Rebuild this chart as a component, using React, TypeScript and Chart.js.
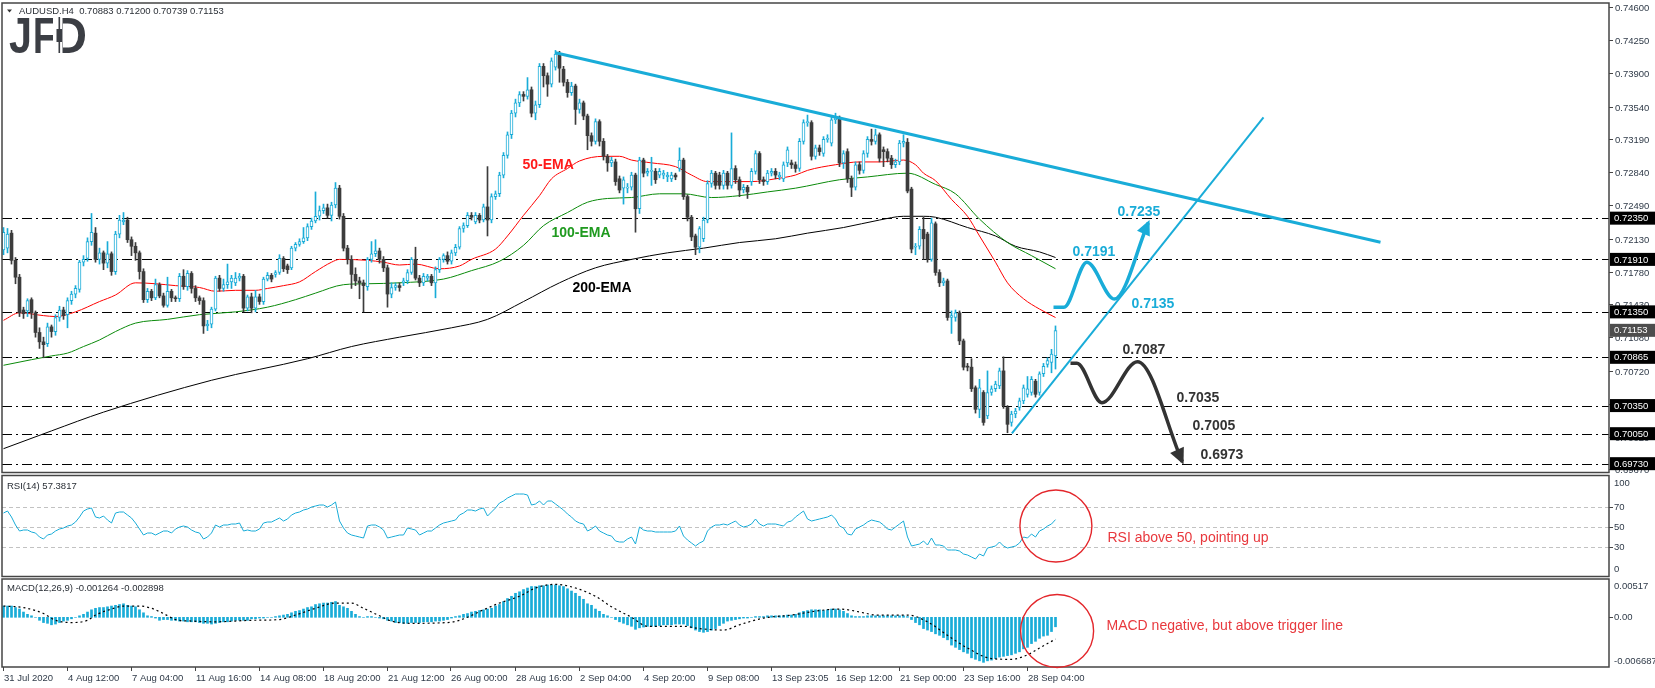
import React, { useEffect, useRef } from 'react';
import { Chart, registerables } from 'chart.js';

Chart.register(...registerables);

const W = 1655;
const H = 688;
const FONT = '"Liberation Sans", Arial, sans-serif';
const CYAN = '#19acd8';
const BEAR = '#3c3c3c';
const AXIS_TXT = '#2f3a48';

// ---------- candles (price x 10000) ----------
const OPEN = [
  7201,7203,7219,7190,7172,7137,7136,7148,7134,7113,
  7103,7101,7119,7114,7129,7137,7132,7147,7154,7159,
  7188,7192,7210,7219,7191,7198,7187,7197,7178,7218,
  7231,7233,7212,7205,7198,7178,7148,7157,7150,7164,
  7152,7142,7157,7150,7149,7173,7162,7176,7160,7150,
  7147,7120,7122,7138,7171,7160,7164,7167,7166,7171,
  7173,7139,7151,7139,7151,7146,7170,7174,7175,7177,
  7192,7184,7182,7203,7207,7210,7214,7226,7232,7237,
  7243,7246,7238,7249,7267,7237,7203,7191,7175,7168,
  7166,7162,7191,7197,7200,7191,7182,7154,7161,7163,
  7166,7168,7177,7191,7171,7166,7171,7173,7166,7180,
  7191,7195,7189,7198,7204,7224,7227,7238,7231,7238,
  7233,7247,7233,7258,7261,7281,7302,7324,7347,7358,
  7367,7365,7372,7347,7356,7397,7387,7378,7396,7410,
  7394,7380,7369,7376,7351,7358,7344,7323,7317,7338,
  7317,7301,7294,7295,7277,7267,7267,7268,7281,7245,
  7297,7283,7285,7285,7281,7281,7279,7277,7281,7288,
  7297,7258,7236,7216,7204,7213,7233,7272,7283,7281,
  7270,7283,7270,7288,7276,7265,7268,7274,7285,7304,
  7276,7274,7283,7285,7279,7277,7294,7294,7292,7288,
  7317,7337,7337,7301,7310,7304,7319,7315,7340,7342,
  7294,7306,7277,7268,7292,7286,7304,7319,7317,7324,
  7308,7306,7299,7292,7295,7315,7316,7266,7204,7205,
  7223,7218,7191,7229,7177,7166,7168,7129,7129,7134,
  7104,7077,7076,7054,7031,7049,7024,7049,7053,7056,
  7072,7033,7017,7026,7033,7040,7047,7049,7061,7049,
  7069,7079,7081,7088,
];
const HIGH = [
  7225,7224,7222,7193,7175,7140,7149,7150,7136,7118,
  7108,7123,7121,7132,7141,7140,7150,7157,7163,7190,
  7195,7214,7240,7225,7203,7200,7210,7199,7221,7238,
  7241,7236,7215,7209,7200,7181,7160,7159,7170,7166,
  7155,7172,7159,7152,7176,7180,7179,7178,7163,7152,
  7150,7126,7140,7173,7174,7170,7186,7174,7177,7176,
  7175,7153,7155,7158,7154,7172,7177,7176,7179,7196,
  7194,7186,7205,7209,7213,7225,7229,7235,7263,7248,
  7250,7250,7252,7273,7270,7240,7206,7195,7182,7172,
  7169,7193,7210,7212,7203,7194,7185,7166,7166,7166,
  7171,7180,7193,7204,7174,7176,7175,7175,7183,7193,
  7197,7199,7201,7207,7226,7230,7241,7241,7241,7240,
  7250,7290,7261,7264,7284,7305,7327,7350,7362,7370,
  7370,7385,7375,7360,7400,7400,7390,7406,7414,7413,
  7397,7383,7380,7378,7362,7360,7346,7326,7341,7340,
  7320,7303,7300,7298,7280,7279,7272,7284,7283,7300,
  7299,7288,7300,7288,7288,7286,7284,7284,7283,7310,
  7299,7260,7238,7218,7226,7236,7275,7286,7285,7284,
  7286,7285,7326,7291,7279,7271,7270,7288,7307,7306,
  7279,7286,7288,7288,7284,7295,7311,7297,7295,7320,
  7340,7345,7339,7313,7313,7322,7324,7343,7347,7344,
  7307,7309,7280,7295,7295,7307,7322,7330,7330,7326,
  7311,7309,7302,7298,7318,7324,7320,7268,7208,7226,
  7236,7220,7235,7231,7180,7171,7170,7136,7137,7136,
  7106,7080,7085,7056,7063,7051,7072,7056,7061,7075,
  7087,7035,7029,7032,7043,7057,7066,7066,7063,7071,
  7080,7086,7095,7120,
];
const LOW = [
  7196,7198,7186,7165,7130,7128,7130,7128,7108,7096,
  7086,7098,7108,7110,7125,7127,7118,7143,7150,7156,
  7184,7189,7206,7188,7186,7180,7182,7174,7175,7214,
  7228,7209,7195,7190,7170,7145,7145,7147,7148,7150,
  7140,7140,7146,7146,7146,7159,7158,7155,7146,7143,
  7112,7115,7118,7136,7157,7157,7160,7160,7163,7168,
  7135,7136,7134,7135,7143,7143,7168,7167,7172,7175,
  7178,7176,7180,7200,7205,7208,7211,7223,7230,7233,
  7240,7235,7232,7246,7234,7200,7186,7160,7163,7149,
  7135,7158,7188,7194,7187,7178,7140,7150,7158,7157,
  7163,7165,7175,7169,7162,7163,7168,7163,7150,7177,
  7188,7186,7186,7195,7202,7220,7225,7233,7229,7230,
  7231,7216,7230,7255,7258,7278,7299,7320,7343,7354,
  7360,7362,7343,7340,7353,7375,7365,7375,7393,7380,
  7376,7364,7366,7335,7347,7340,7308,7312,7314,7312,
  7297,7285,7290,7270,7262,7250,7262,7265,7220,7240,
  7279,7280,7270,7272,7278,7277,7274,7274,7276,7285,
  7255,7232,7211,7196,7198,7210,7230,7268,7266,7266,
  7266,7266,7267,7272,7258,7262,7256,7270,7282,7272,
  7270,7271,7280,7277,7276,7274,7290,7288,7284,7285,
  7314,7333,7297,7298,7302,7301,7316,7312,7336,7290,
  7288,7273,7258,7265,7282,7283,7300,7313,7314,7295,
  7290,7295,7288,7289,7292,7311,7262,7198,7196,7202,
  7191,7188,7189,7174,7162,7163,7126,7112,7125,7100,
  7073,7072,7050,7027,7022,7014,7021,7046,7050,7053,
  7032,7006,7013,7022,7030,7037,7044,7046,7044,7046,
  7066,7076,7070,7074,
];
const CLOSE = [
  7220,7218,7190,7172,7134,7133,7147,7134,7113,7103,
  7100,7119,7114,7129,7137,7131,7147,7154,7160,7188,
  7191,7210,7220,7191,7198,7187,7197,7178,7218,7233,
  7233,7212,7205,7198,7178,7148,7157,7150,7164,7152,
  7142,7157,7150,7149,7173,7162,7176,7160,7150,7147,
  7120,7122,7138,7171,7160,7164,7167,7171,7171,7173,
  7139,7151,7139,7151,7146,7170,7174,7170,7177,7192,
  7181,7180,7203,7207,7210,7214,7226,7232,7237,7243,
  7246,7238,7249,7267,7237,7203,7191,7175,7168,7166,
  7163,7191,7197,7200,7191,7182,7154,7161,7163,7161,
  7168,7177,7191,7171,7166,7173,7173,7166,7180,7191,
  7195,7189,7198,7204,7224,7227,7238,7236,7238,7233,
  7247,7233,7258,7261,7281,7302,7324,7347,7358,7367,
  7365,7372,7347,7356,7397,7387,7378,7403,7410,7395,
  7380,7369,7376,7351,7358,7344,7323,7317,7338,7317,
  7301,7294,7297,7274,7265,7276,7268,7281,7245,7297,
  7283,7285,7286,7276,7285,7283,7281,7281,7279,7297,
  7258,7236,7215,7204,7224,7233,7272,7283,7270,7270,
  7283,7270,7288,7276,7265,7268,7263,7285,7304,7276,
  7274,7283,7285,7281,7281,7292,7308,7292,7288,7317,
  7337,7338,7301,7310,7306,7319,7320,7340,7342,7294,
  7304,7277,7268,7292,7286,7304,7319,7317,7324,7299,
  7306,7299,7292,7295,7315,7317,7264,7202,7205,7223,
  7213,7191,7230,7177,7166,7168,7129,7131,7134,7104,
  7076,7076,7053,7031,7054,7017,7049,7053,7058,7072,
  7035,7015,7026,7029,7040,7054,7053,7063,7047,7069,
  7077,7083,7090,7115,
];

// ---------- moving averages [bar, price x 10000] ----------
const EMA50 = [
  [0,7126],[4,7134],[10,7131],[13,7130],[18,7135],[24,7146],[28,7153],[33,7166],[38,7165],[43,7163],
  [49,7161],[53,7157],[58,7158],[63,7158],[66,7160],[70,7163],[74,7167],[78,7178],[82,7188],[84,7191],
  [91,7190],[95,7188],[99,7185],[103,7186],[109,7181],[114,7184],[117,7191],[123,7202],[126,7216],[130,7238],
  [134,7259],[137,7277],[141,7288],[144,7296],[150,7301],[154,7301],[157,7297],[162,7294],[168,7290],[172,7281],
  [176,7274],[180,7274],[187,7274],[193,7277],[198,7281],[201,7286],[208,7292],[214,7295],[219,7295],[225,7297],
  [228,7292],[230,7283],[233,7275],[237,7255],[241,7237],[244,7216],[248,7188],[251,7166],[255,7149],[259,7138],[263,7129],
];
const EMA100 = [
  [0,7078],[7,7084],[12,7088],[16,7091],[20,7098],[24,7105],[28,7114],[33,7123],[41,7127],[49,7132],
  [58,7135],[66,7140],[73,7148],[78,7155],[85,7164],[91,7165],[99,7166],[110,7170],[117,7179],[124,7189],
  [130,7206],[135,7227],[141,7241],[146,7252],[151,7256],[157,7257],[164,7261],[170,7261],[177,7257],[184,7259],
  [191,7263],[198,7267],[209,7276],[216,7279],[226,7283],[233,7271],[238,7261],[244,7234],[251,7209],[257,7195],[263,7181],
];
const EMA200 = [
  [0,6989],[12,7008],[25,7028],[52,7062],[76,7085],[87,7098],[99,7108],[112,7118],[121,7127],[130,7146],
  [139,7166],[148,7182],[157,7191],[166,7198],[175,7203],[184,7209],[193,7213],[201,7219],[210,7225],[219,7233],
  [225,7237],[230,7237],[233,7236],[241,7225],[248,7216],[253,7205],[259,7199],[263,7193],
];

// ---------- RSI(14) ----------
const RSI = [
  64,66,60,52,46,47,47,45,44,40,
  38,42,43,46,48,49,51,52,55,60,
  66,68,69,60,59,61,57,54,64,65,
  65,62,59,54,48,42,44,44,42,44,
  46,46,44,48,50,51,50,47,45,44,
  38,40,44,52,50,52,52,53,53,54,
  46,47,46,46,48,54,55,55,57,59,
  56,58,62,64,65,67,68,70,71,72,
  72,70,72,75,56,49,44,42,41,40,
  39,51,52,52,50,47,39,40,41,42,
  42,49,48,47,42,44,46,46,49,52,
  54,55,56,57,62,64,67,67,66,68,
  69,61,65,69,74,76,79,81,83,83,
  83,82,72,73,76,72,76,76,73,70,
  67,63,60,56,54,53,46,48,51,46,
  44,42,41,36,35,35,38,40,33,50,
  47,46,46,45,45,45,45,45,46,51,
  41,37,34,31,34,36,46,50,52,52,
  53,52,54,56,52,50,51,53,58,53,
  51,53,53,53,52,51,55,56,60,63,
  66,58,56,57,58,59,60,62,58,51,
  49,43,42,48,50,52,55,57,56,55,
  52,48,47,50,53,56,40,31,32,33,
  36,32,39,32,32,31,27,27,27,26,
  23,22,20,18,23,21,29,30,31,35,
  31,29,30,31,34,40,39,43,40,46,
  48,51,53,57.38,
];

// ---------- MACD(12,26,9) main (x 10000) ----------
const MACD = [
  15,15,15,13,11,7,4,2,0,-4,
  -7,-8,-10,-9,-7,-5,-4,-2,0,2,
  4,7,10,12,13,13,14,15,16,17,
  18,16,15,14,10,6,2,1,-1,-4,
  -3,-3,-4,-4,-5,-5,-6,-6,-6,-7,
  -8,-8,-9,-8,-7,-6,-6,-5,-4,-4,
  -4,-4,-2,-2,-1,-1,0,0,1,2,
  3,4,6,8,9,11,13,14,17,18,
  19,19,20,21,16,14,12,8,4,1,
  0,1,1,0,-1,-2,-4,-5,-7,-7,
  -8,-8,-7,-7,-7,-6,-6,-6,-5,-5,
  -4,-3,-1,1,2,4,5,7,8,9,
  10,11,12,15,17,21,25,28,32,34,
  37,39,41,41,42,42,43,43,43,42,
  41,38,35,32,28,24,18,16,11,8,
  4,2,0,-3,-6,-8,-10,-12,-16,-14,
  -13,-12,-12,-12,-11,-10,-10,-10,-9,-9,
  -9,-11,-14,-17,-19,-20,-19,-17,-15,-11,
  -8,-5,-4,-3,-2,-1,-1,0,1,1,
  1,2,2,2,2,2,3,3,4,6,
  8,9,10,10,10,9,10,11,11,10,
  8,5,2,1,1,1,2,2,2,2,
  2,2,2,2,2,2,1,-3,-7,-10,
  -15,-17,-19,-22,-24,-27,-30,-37,-40,-43,
  -46,-48,-54,-56,-58,-60,-58,-57,-55,-53,
  -52,-51,-50,-48,-46,-42,-40,-35,-32,-28,
  -25,-24,-19,-12.64,
];
// signal line [bar, value x 10000]
const SIGNAL = [
  [0,15],[5,13],[10,5],[13,-4],[17,-7],[21,-4],[23,3],[27,11],[30,15],[34,15],
  [37,12],[40,5],[43,-3],[47,-5],[53,-6],[62,-4],[69,-3],[73,3],[78,12],[83,19],
  [87,19],[90,12],[94,2],[97,-5],[102,-8],[111,-7],[114,-4],[120,10],[124,19],[129,28],
  [133,39],[138,44],[143,39],[148,28],[152,14],[157,0],[161,-12],[170,-12],[174,-15],[180,-17],
  [184,-10],[190,-1],[197,3],[204,9],[209,11],[215,6],[218,3],[226,3],[231,-6],[236,-24],
  [241,-41],[247,-55],[252,-56],[256,-50],[259,-41],[263,-28.98],
];

// ---------- drawn analysis ----------
const LEVELS = [0.7235, 0.7191, 0.7135, 0.70865, 0.7035, 0.7005, 0.6973];
const CURRENT_PRICE = 0.71153;
const TREND_DOWN_X = [138, 344.25];
const TREND_DOWN_Y = [0.74116, 0.72093];
const TREND_UP_X = [252.1, 315];
const TREND_UP_Y = [0.70054, 0.73426];
const BULL_PATH_X = [262.5, 265.1, 270.85, 277.7, 286.2];
const BULL_PATH_Y = [0.71399, 0.71399, 0.71879, 0.71487, 0.72301];
const BEAR_PATH_X = [266.75, 268.35, 274.6, 283.5, 294.7];
const BEAR_PATH_Y = [0.70801, 0.70801, 0.70381, 0.70818, 0.69751];

// ---------- axes ----------
const PRICE_TICKS = [0.746, 0.7425, 0.739, 0.7354, 0.7319, 0.7284, 0.7249, 0.7213, 0.7178, 0.7143, 0.7108, 0.7072, 0.7037, 0.7002, 0.6967];
const RSI_LEVELS = [70, 50, 30];
const RSI_TICKS = [100, 70, 50, 30, 0];
const MACD_TICKS = [0.00517, 0, -0.006687];
const MACD_TICK_TEXT = ['0.00517', '0.00', '-0.006687'];
const X_TICK_BARS = [0, 16, 32, 48, 64, 80, 96, 112, 128, 144, 160, 176, 192, 208, 224, 240, 256];
const X_TICK_LABELS = ['31 Jul 2020', '4 Aug 12:00', '7 Aug 04:00', '11 Aug 16:00', '14 Aug 08:00', '18 Aug 20:00', '21 Aug 12:00', '26 Aug 00:00', '28 Aug 16:00', '2 Sep 04:00', '4 Sep 20:00', '9 Sep 08:00', '13 Sep 23:05', '16 Sep 12:00', '21 Sep 00:00', '23 Sep 16:00', '28 Sep 04:00'];

// annotation anchors in data units
const PRICE_NOTES = [
  { text: '0.7235', bar: 278.5, value: 0.72416, color: CYAN },
  { text: '0.7191', bar: 267.25, value: 0.71989, color: CYAN },
  { text: '0.7135', bar: 282, value: 0.71434, color: CYAN },
  { text: '0.7087', bar: 279.75, value: 0.70943, color: '#333333' },
  { text: '0.7035', bar: 293.25, value: 0.70431, color: '#333333' },
  { text: '0.7005', bar: 297.25, value: 0.70132, color: '#333333' },
  { text: '0.6973', bar: 299.25, value: 0.69822, color: '#333333' },
  { text: '50-EMA', bar: 129.75, value: 0.72917, color: '#ff1a1a' },
  { text: '100-EMA', bar: 137, value: 0.72192, color: '#1f9a1f' },
  { text: '200-EMA', bar: 142.25, value: 0.71605, color: '#000000' },
];
const RSI_NOTE = { text: 'RSI above 50, pointing up', bar: 276, value: 39 };
const MACD_NOTE = { text: 'MACD negative, but above trigger line', bar: 275.75, value: -0.00116 };
const RSI_CIRCLE = { bar: 263.1, value: 51 };
const MACD_CIRCLE = { bar: 263.4, value: -0.00183 };

const P = (v: number) => v / 10000;

function arrowHead(ctx: any, x1: number, y1: number, x2: number, y2: number, len: number, half: number, color: string) {
  const dx = x2 - x1, dy = y2 - y1;
  const d = Math.hypot(dx, dy) || 1;
  const ux = dx / d, uy = dy / d;
  const tx = x2 + ux * 3, ty = y2 + uy * 3;
  const bx = tx - ux * len, by = ty - uy * len;
  ctx.fillStyle = color;
  ctx.beginPath();
  ctx.moveTo(tx, ty);
  ctx.lineTo(bx - uy * half, by + ux * half);
  ctx.lineTo(bx + uy * half, by - ux * half);
  ctx.closePath();
  ctx.fill();
}

const overlay = {
  id: 'overlay',
  beforeDatasetsDraw(chart: any) {
    const { ctx, chartArea: a, scales } = chart;
    ctx.save();
    ctx.lineWidth = 1;
    ctx.strokeStyle = '#000';
    ctx.setLineDash([10, 4, 2, 4]);
    for (const lv of LEVELS) {
      const y = Math.round(scales.y.getPixelForValue(lv)) + 0.5;
      ctx.beginPath();
      ctx.moveTo(a.left, y);
      ctx.lineTo(a.right, y);
      ctx.stroke();
    }
    ctx.strokeStyle = '#c2c2c2';
    ctx.setLineDash([4, 3]);
    for (const lv of RSI_LEVELS) {
      const y = Math.round(scales.yR.getPixelForValue(lv)) + 0.5;
      ctx.beginPath();
      ctx.moveTo(a.left, y);
      ctx.lineTo(a.right, y);
      ctx.stroke();
    }
    ctx.restore();
  },
  afterDatasetsDraw(chart: any) {
    const { ctx, scales } = chart;
    const xs = scales.x, ys = scales.y;
    ctx.save();
    // arrow heads on the projected paths
    let n = BULL_PATH_X.length;
    arrowHead(ctx, xs.getPixelForValue(BULL_PATH_X[n - 2]), ys.getPixelForValue(BULL_PATH_Y[n - 2]),
      xs.getPixelForValue(BULL_PATH_X[n - 1]), ys.getPixelForValue(BULL_PATH_Y[n - 1]), 15, 7, CYAN);
    n = BEAR_PATH_X.length;
    arrowHead(ctx, xs.getPixelForValue(BEAR_PATH_X[n - 2]), ys.getPixelForValue(BEAR_PATH_Y[n - 2]),
      xs.getPixelForValue(BEAR_PATH_X[n - 1]), ys.getPixelForValue(BEAR_PATH_Y[n - 1]), 16, 7.5, '#333333');
    ctx.restore();
  },
  afterDraw(chart: any) {
    const { ctx, chartArea: a, scales } = chart;
    const xs = scales.x, ys = scales.y, yr = scales.yR, ym = scales.yM;
    ctx.save();
    ctx.setLineDash([]);

    // panel frames
    ctx.strokeStyle = '#454545';
    ctx.lineWidth = 1.5;
    const L = a.left, R = a.right;
    ctx.strokeRect(L, 3, R - L, 469.5);
    ctx.strokeRect(L, 475.5, R - L, 101);
    ctx.strokeRect(L, 579, R - L, 88);

    // price axis
    ctx.lineWidth = 1;
    ctx.strokeStyle = '#454545';
    ctx.font = '9.5px ' + FONT;
    ctx.textBaseline = 'middle';
    ctx.textAlign = 'left';
    for (const t of PRICE_TICKS) {
      const y = Math.round(ys.getPixelForValue(t)) + 0.5;
      ctx.beginPath(); ctx.moveTo(R, y); ctx.lineTo(R + 4, y); ctx.stroke();
      ctx.fillStyle = AXIS_TXT;
      ctx.fillText(t.toFixed(5), R + 6, Math.max(y + 1, 8));
    }
    for (const lv of LEVELS) {
      const y = ys.getPixelForValue(lv);
      ctx.fillStyle = '#000';
      ctx.fillRect(R + 1, y - 6.5, W - R - 1, 13);
      ctx.fillStyle = '#fff';
      ctx.fillText(lv.toFixed(5), R + 5, y + 0.5);
    }
    {
      const y = ys.getPixelForValue(CURRENT_PRICE);
      ctx.fillStyle = '#4d4d4d';
      ctx.fillRect(R + 1, y - 6.5, W - R - 1, 13);
      ctx.fillStyle = '#fff';
      ctx.fillText(CURRENT_PRICE.toFixed(5), R + 5, y + 0.5);
    }

    // RSI axis
    ctx.fillStyle = AXIS_TXT;
    for (const t of RSI_TICKS) {
      const y = yr.getPixelForValue(t);
      if (t !== 100 && t !== 0) {
        ctx.beginPath(); ctx.moveTo(R, Math.round(y) + 0.5); ctx.lineTo(R + 4, Math.round(y) + 0.5); ctx.stroke();
      }
      const ty = t === 100 ? y + 6 : t === 0 ? y - 8 : y;
      ctx.fillText(String(t), R + 5, ty);
    }
    // MACD axis
    MACD_TICKS.forEach((t, i) => {
      const y = ym.getPixelForValue(t);
      const ty = i === 0 ? y + 7.5 : i === 2 ? y - 6.5 : y;
      if (i === 1) { ctx.beginPath(); ctx.moveTo(R, Math.round(y) + 0.5); ctx.lineTo(R + 4, Math.round(y) + 0.5); ctx.stroke(); }
      ctx.fillText(MACD_TICK_TEXT[i], R + 5, ty);
    });

    // time axis
    X_TICK_BARS.forEach((b, i) => {
      const x = Math.round(xs.getPixelForValue(b)) - 0.5;
      ctx.beginPath(); ctx.moveTo(x, 667); ctx.lineTo(x, 671); ctx.stroke();
      ctx.fillText(X_TICK_LABELS[i], x + 0.5, 678);
    });

    // header + indicator captions
    ctx.fillStyle = '#333';
    ctx.beginPath(); ctx.moveTo(7, 9.5); ctx.lineTo(12, 9.5); ctx.lineTo(9.5, 12.5); ctx.closePath(); ctx.fill();
    ctx.fillStyle = '#2a2f36';
    ctx.fillText('AUDUSD,H4  0.70883 0.71200 0.70739 0.71153', 19, 11);
    ctx.fillText('RSI(14) 57.3817', 7, 486);
    ctx.fillText('MACD(12,26,9) -0.001264 -0.002898', 7, 588);

    // JFD logo
    ctx.fillStyle = '#3b3e44';
    ctx.textBaseline = 'alphabetic';
    ctx.font = 'bold 50px ' + FONT;
    ctx.fillText('J', 9, 53, 23);
    ctx.fillText('F', 33, 53, 22);
    ctx.fillText('D', 53, 53, 34);
    ctx.fillStyle = '#fff';
    ctx.fillRect(53, 14, 9.5, 42);
    ctx.fillStyle = '#3b3e44';
    ctx.fillRect(58.5, 17, 1.6, 36);
    ctx.fillRect(56.5, 29, 5.5, 13);

    // labels on the price panel
    ctx.font = 'bold 14px ' + FONT;
    ctx.textBaseline = 'middle';
    for (const nt of PRICE_NOTES) {
      ctx.fillStyle = nt.color;
      ctx.fillText(nt.text, xs.getPixelForValue(nt.bar), ys.getPixelForValue(nt.value));
    }

    // circles and comments on the oscillators
    ctx.strokeStyle = '#e3262b';
    ctx.lineWidth = 1.4;
    ctx.beginPath();
    ctx.arc(xs.getPixelForValue(RSI_CIRCLE.bar), yr.getPixelForValue(RSI_CIRCLE.value), 36, 0, Math.PI * 2);
    ctx.stroke();
    ctx.beginPath();
    ctx.arc(xs.getPixelForValue(MACD_CIRCLE.bar), ym.getPixelForValue(MACD_CIRCLE.value), 36.5, 0, Math.PI * 2);
    ctx.stroke();
    ctx.font = '14px ' + FONT;
    ctx.fillStyle = '#e8383d';
    ctx.fillText(RSI_NOTE.text, xs.getPixelForValue(RSI_NOTE.bar), yr.getPixelForValue(RSI_NOTE.value));
    ctx.fillText(MACD_NOTE.text, xs.getPixelForValue(MACD_NOTE.bar), ym.getPixelForValue(MACD_NOTE.value));

    ctx.restore();
  },
};

function buildConfig(): any {
  const idx = CLOSE.map((_, i) => i);
  const bull = idx.map((i) => CLOSE[i] >= OPEN[i]);
  const line = (pts: any[], color: string, width: number, yAxisID: string, order: number, extra: any = {}) => ({
    type: 'line',
    data: pts,
    borderColor: color,
    borderWidth: width,
    pointRadius: 0,
    fill: false,
    yAxisID,
    order,
    ...extra,
  });
  const datasets: any[] = [
    {
      type: 'bar',
      data: idx.map((i) => ({ x: i, y: [P(OPEN[i]), P(CLOSE[i])] })),
      backgroundColor: idx.map((i) => (bull[i] ? '#ffffff' : BEAR)),
      borderColor: idx.map((i) => (bull[i] ? CYAN : BEAR)),
      borderWidth: idx.map((i) => (bull[i] ? 1 : 0)),
      borderSkipped: false,
      barThickness: 3,
      minBarLength: 1,
      grouped: false,
      yAxisID: 'y',
      order: 3,
    },
    {
      type: 'bar',
      data: idx.map((i) => ({ x: i, y: [P(LOW[i]), P(HIGH[i])] })),
      backgroundColor: idx.map((i) => (bull[i] ? CYAN : BEAR)),
      borderWidth: 0,
      barThickness: 1,
      grouped: false,
      yAxisID: 'y',
      order: 4,
    },
    {
      type: 'bar',
      data: idx.map((i) => ({ x: i, y: MACD[i] / 10000 })),
      backgroundColor: CYAN,
      borderWidth: 0,
      barThickness: 2,
      grouped: false,
      yAxisID: 'yM',
      order: 4,
    },
    line(EMA50.map(([b, v]) => ({ x: b, y: P(v) })), '#ff0000', 1, 'y', 5, { cubicInterpolationMode: 'monotone' }),
    line(EMA100.map(([b, v]) => ({ x: b, y: P(v) })), '#0a8a0a', 1, 'y', 5, { cubicInterpolationMode: 'monotone' }),
    line(EMA200.map(([b, v]) => ({ x: b, y: P(v) })), '#000000', 1, 'y', 5, { cubicInterpolationMode: 'monotone' }),
    line(RSI.map((v, i) => ({ x: i, y: v })), CYAN, 1, 'yR', 2),
    line(SIGNAL.map(([b, v]) => ({ x: b, y: v / 10000 })), '#000000', 1.2, 'yM', 2, { borderDash: [2, 3], cubicInterpolationMode: 'monotone' }),
    line(TREND_DOWN_X.map((b, i) => ({ x: b, y: TREND_DOWN_Y[i] })), CYAN, 3, 'y', 2),
    line(TREND_UP_X.map((b, i) => ({ x: b, y: TREND_UP_Y[i] })), CYAN, 2, 'y', 2),
    line(BULL_PATH_X.map((b, i) => ({ x: b, y: BULL_PATH_Y[i] })), CYAN, 3.5, 'y', 1, { cubicInterpolationMode: 'monotone', borderCapStyle: 'butt' }),
    line(BEAR_PATH_X.map((b, i) => ({ x: b, y: BEAR_PATH_Y[i] })), '#333333', 3.5, 'y', 1, { cubicInterpolationMode: 'monotone', borderCapStyle: 'butt' }),
  ];
  return {
    type: 'bar',
    data: { datasets },
    options: {
      responsive: false,
      animation: false,
      events: [],
      devicePixelRatio: 1,
      layout: { padding: { left: 2, right: W - 1609, top: 4, bottom: H - 667 } },
      plugins: { legend: { display: false }, tooltip: { enabled: false } },
      scales: {
        x: { type: 'linear', min: -0.375, max: 401.375, display: false, offset: false, grid: { offset: false } },
        y: { type: 'linear', min: 0.675603, max: 0.746353, display: false },
        yR: { type: 'linear', min: -90, max: 573, display: false },
        yM: { type: 'linear', min: -0.006621, max: 0.081708, display: false },
      },
    },
    plugins: [overlay],
  };
}

export default function App() {
  const ref = useRef<HTMLCanvasElement>(null);
  useEffect(() => {
    document.body.style.margin = '0';
    const chart = new Chart(ref.current as HTMLCanvasElement, buildConfig());
    return () => chart.destroy();
  }, []);
  return (
    <div style={{ position: 'absolute', left: 0, top: 0, width: W, height: H, background: '#ffffff' }}>
      <canvas ref={ref} width={W} height={H} style={{ display: 'block', width: W, height: H }} />
    </div>
  );
}
